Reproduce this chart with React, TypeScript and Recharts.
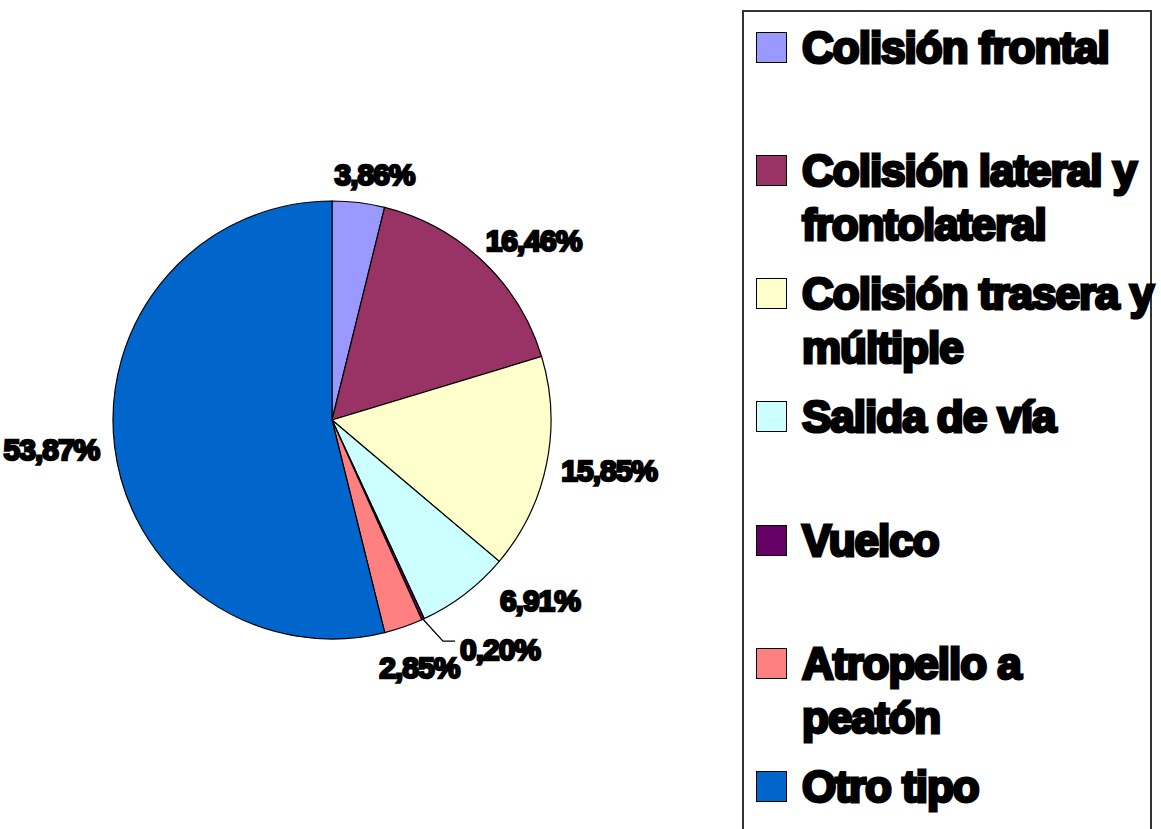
import { PieChart, Pie, Cell, Legend } from 'recharts';

const CATEGORIES = [
  'Colisión frontal',
  'Colisión lateral y frontolateral',
  'Colisión trasera y múltiple',
  'Salida de vía',
  'Vuelco',
  'Atropello a peatón',
  'Otro tipo',
];
const SHARES = [3.86, 16.46, 15.85, 6.91, 0.2, 2.85, 53.87];
const COLORS = ['#9999FF', '#993366', '#FFFFCC', '#CCFFFF', '#660066', '#FF8080', '#0066CC'];

const data = CATEGORIES.map((name, i) => ({ name, value: SHARES[i] }));
const TOTAL = SHARES.reduce((a, b) => a + b, 0);

const RAD = Math.PI / 180;
const FONT = '"Liberation Sans", Arial, sans-serif';
const TINY = 0.01;

function formatPct(v: number): string {
  return `${v.toFixed(2).replace('.', ',')}%`;
}

const labelStyle = {
  fontFamily: FONT,
  fontSize: 30,
  fontWeight: 700,
  letterSpacing: -1,
  fill: '#000',
  stroke: '#000',
  strokeWidth: 2.4,
};

function renderLabel(props: any) {
  const { cx, cy, midAngle, outerRadius, value, percent, index } = props;
  const text = formatPct(value);

  // tiny slices get a leader line, like the spreadsheet did
  if (percent < TINY) {
    const ex = cx + outerRadius * Math.cos(-midAngle * RAD);
    const ey = cy + outerRadius * Math.sin(-midAngle * RAD);
    const kx = ex + 20;
    const ky = ey + 22;
    return (
      <g>
        <polyline
          points={`${ex},${ey} ${kx},${ky} ${kx + 12},${ky}`}
          fill="none"
          stroke="#000"
          strokeWidth={1.3}
        />
        <text x={kx + 17} y={ky + 8} textAnchor="start" dominantBaseline="central" style={labelStyle}>
          {text}
        </text>
      </g>
    );
  }

  // labels next to a tiny slice slide away from it and step out a little
  let angle = midAngle;
  let gap = 14;
  const half = (percent * 360) / 2;
  const prevTiny = index > 0 && SHARES[index - 1] / TOTAL < TINY;
  const nextTiny = index < SHARES.length - 1 && SHARES[index + 1] / TOTAL < TINY;
  if (nextTiny) { angle += 0.65 * half; gap += 10; }
  if (prevTiny) { angle -= 0.65 * half; gap += 10; }

  const dx = Math.cos(-angle * RAD);
  const dy = Math.sin(-angle * RAD);
  const w = text.length * 16.5;
  const r = outerRadius + gap;
  const x = cx + r * dx + Math.sign(dx) * Math.sqrt(Math.abs(dx)) * (w / 2);
  const y = cy + r * dy + dy * 14;
  return (
    <text x={x} y={y} textAnchor="middle" dominantBaseline="central" style={labelStyle}>
      {text}
    </text>
  );
}

function renderLegend() {
  return (
    <div
      style={{
        width: 410,
        height: 900,
        boxSizing: 'border-box',
        border: '2px solid #333',
        background: '#fff',
        paddingTop: 8.5,
      }}
    >
      {CATEGORIES.map((name, i) => (
        <div key={name} style={{ display: 'flex', alignItems: 'flex-start', height: 123.3 }}>
          <div
            style={{
              width: 31,
              height: 31,
              boxSizing: 'border-box',
              border: '1.5px solid #000',
              background: COLORS[i],
              marginLeft: 12,
              marginTop: 11,
              flex: 'none',
            }}
          />
          <div
            style={{
              marginLeft: 15,
              width: 360,
              flex: 'none',
              fontFamily: FONT,
              fontSize: 44,
              fontWeight: 700,
              lineHeight: '54px',
              letterSpacing: -1,
              color: '#000',
              WebkitTextStroke: '3px #000',
              whiteSpace: 'normal',
            }}
          >
            {name}
          </div>
        </div>
      ))}
    </div>
  );
}

export default function App() {
  return (
    <div
      style={{
        position: 'absolute',
        left: 0,
        top: 0,
        width: 1161,
        height: 829,
        overflow: 'hidden',
        background: '#fff',
      }}
    >
      <PieChart width={1161} height={829} margin={{ top: 0, right: 0, bottom: 0, left: 0 }}>
        <Pie
          data={data}
          dataKey="value"
          nameKey="name"
          cx={332}
          cy={420}
          outerRadius={219}
          startAngle={90}
          endAngle={-270}
          stroke="#000"
          strokeWidth={1.2}
          label={renderLabel}
          labelLine={false}
          isAnimationActive={false}
        >
          {data.map((_, i) => (
            <Cell key={i} fill={COLORS[i]} />
          ))}
        </Pie>
        <Legend
          layout="vertical"
          align="right"
          verticalAlign="top"
          wrapperStyle={{ left: 742, top: 10, right: 'auto', width: 410, height: 900 }}
          content={renderLegend}
        />
      </PieChart>
    </div>
  );
}
